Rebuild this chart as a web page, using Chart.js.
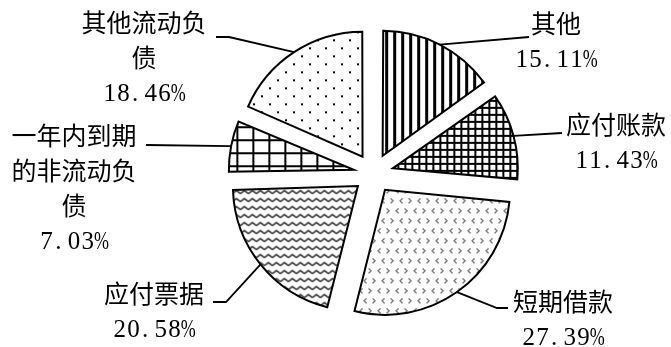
<!DOCTYPE html>
<html>
<head>
<meta charset="utf-8">
<script src="https://cdn.jsdelivr.net/npm/chart.js@4/dist/chart.umd.min.js"></script>
<style>
  body { margin: 0; background: #fff; }
  #wrap { width: 671px; height: 347px; }
</style>
</head>
<body>
<div id="wrap"><canvas id="debtChart" width="671" height="347"></canvas></div>
<script>
// ========== data ==========
const categories = ['其他', '应付账款', '短期借款', '应付票据', '一年内到期的非流动负债', '其他流动负债'];
const shares = [15.11, 11.43, 27.39, 20.58, 7.03, 18.46];

// ========== label layout (text centre x, first line y, leader elbows) ==========
const labelX = [556, 616, 563, 154, 74, 144];
const labelY = [23, 124, 301, 293, 135, 22];
const leaderEnds = [
  [[529, 37]],
  [[562, 133]],
  [[497, 308], [508, 308]],
  [[226, 302], [213, 302]],
  [[146, 145]],
  [[229, 37], [216, 37]]
];
const LINE_H = 35;
const CHARS_PER_LINE = 5;

// ========== black & white fill patterns ==========
const canvas = document.getElementById('debtChart');
const ctx = canvas.getContext('2d');

function makeTile(w, h, draw) {
  const c = document.createElement('canvas');
  c.width = w; c.height = h;
  const g = c.getContext('2d');
  g.fillStyle = '#fff';
  g.fillRect(0, 0, w, h);
  g.fillStyle = '#000';
  g.strokeStyle = '#000';
  draw(g);
  return ctx.createPattern(c, 'repeat');
}

// little "<" / ">" marks, 3x5 px
function chevron(g, x, y, right) {
  const cols = right ? [0, 1, 2, 1, 0] : [2, 1, 0, 1, 2];
  cols.forEach((dx, dy) => g.fillRect(x + dx, y + dy, 1, 1));
}

const fills = [
  // vertical stripes
  makeTile(8, 8, g => g.fillRect(0, 0, 3, 8)),
  // fine grid
  makeTile(7, 7, g => { g.fillRect(0, 0, 7, 2); g.fillRect(0, 0, 2, 7); }),
  // divots
  makeTile(18, 20, g => {
    chevron(g, 1, 2, true); chevron(g, 10, 2, false);
    chevron(g, 6, 12, false); chevron(g, 15, 12, true);
  }),
  // waves
  makeTile(8, 8, g => {
    g.lineWidth = 1.4;
    for (const ox of [-8, 0, 8]) {
      g.beginPath();
      g.moveTo(ox, 5); g.lineTo(ox + 4, 2); g.lineTo(ox + 8, 5);
      g.stroke();
    }
  }),
  // large grid
  makeTile(16, 13, g => { g.fillRect(0, 0, 16, 2); g.fillRect(0, 0, 2, 13); }),
  // sparse dots
  makeTile(16, 16, g => { g.fillRect(0, 0, 2, 2); g.fillRect(8, 8, 2, 2); })
];

// ========== text helpers ==========
function wrapName(name) {
  const out = [];
  for (let i = 0; i < name.length; i += CHARS_PER_LINE) out.push(name.slice(i, i + CHARS_PER_LINE));
  return out;
}

function drawCjk(c, text, cx, cy) {
  c.font = '25px "Noto Sans CJK SC"';
  c.textAlign = 'center';
  c.textBaseline = 'middle';
  c.fillText(text, cx, cy);
}

// half-width digits on a fixed cell, like a CJK system font
function drawDigits(c, text, cx, cy) {
  const cell = 13.7;
  let x = cx - text.length * cell / 2;
  c.font = '25px "Liberation Serif"';
  c.textAlign = 'center';
  c.textBaseline = 'alphabetic';
  for (const ch of text) {
    const mx = x + cell / 2;
    if (ch === '%') {
      c.save();
      c.translate(mx, cy + 8.5);
      c.scale(0.72, 1);
      c.fillText(ch, 0, 0);
      c.restore();
    } else {
      c.fillText(ch, ch === '.' ? mx - 2 : mx, cy + 8.5);
    }
    x += cell;
  }
}

// ========== callouts plugin ==========
const callouts = {
  id: 'callouts',
  beforeDatasetsDraw(chart) {
    // arc.draw grows narrow wedges by offset * fix; keep every wedge at the same radius
    const meta = chart.getDatasetMeta(0);
    const baseR = meta.controller.outerRadius;
    meta.data.forEach(arc => {
      const fix = 1 - Math.sin(Math.min(Math.PI, arc.circumference));
      arc.outerRadius = baseR - (arc.options.offset / 4) * fix;
    });
  },
  afterDatasetsDraw(chart) {
    const c = chart.ctx;
    const meta = chart.getDatasetMeta(0);
    const baseR = meta.controller.outerRadius;
    c.save();
    c.strokeStyle = '#000';
    c.fillStyle = '#000';
    c.lineWidth = 1.8;
    meta.data.forEach((arc, i) => {
      const mid = (arc.startAngle + arc.endAngle) / 2;
      const r = baseR + arc.options.offset / 4;
      c.beginPath();
      c.moveTo(arc.x + Math.cos(mid) * r, arc.y + Math.sin(mid) * r);
      leaderEnds[i].forEach(([px, py]) => c.lineTo(px, py));
      c.stroke();

      const lines = wrapName(categories[i]);
      lines.forEach((t, k) => drawCjk(c, t, labelX[i], labelY[i] + k * LINE_H));
      drawDigits(c, shares[i].toFixed(2) + '%', labelX[i], labelY[i] + lines.length * LINE_H);
    });
    c.restore();
  }
};

// ========== chart ==========
new Chart(ctx, {
  type: 'pie',
  data: {
    labels: categories,
    datasets: [{
      data: shares,
      backgroundColor: fills,
      borderColor: '#000',
      borderWidth: 2,
      borderJoinStyle: 'miter',
      offset: 80
    }]
  },
  options: {
    responsive: false,
    animation: false,
    events: [],
    radius: 125,
    layout: { padding: { left: 76, right: 0, top: 0, bottom: 0 } },
    plugins: {
      legend: { display: false },
      tooltip: { enabled: false }
    }
  },
  plugins: [callouts]
});
</script>
</body>
</html>
